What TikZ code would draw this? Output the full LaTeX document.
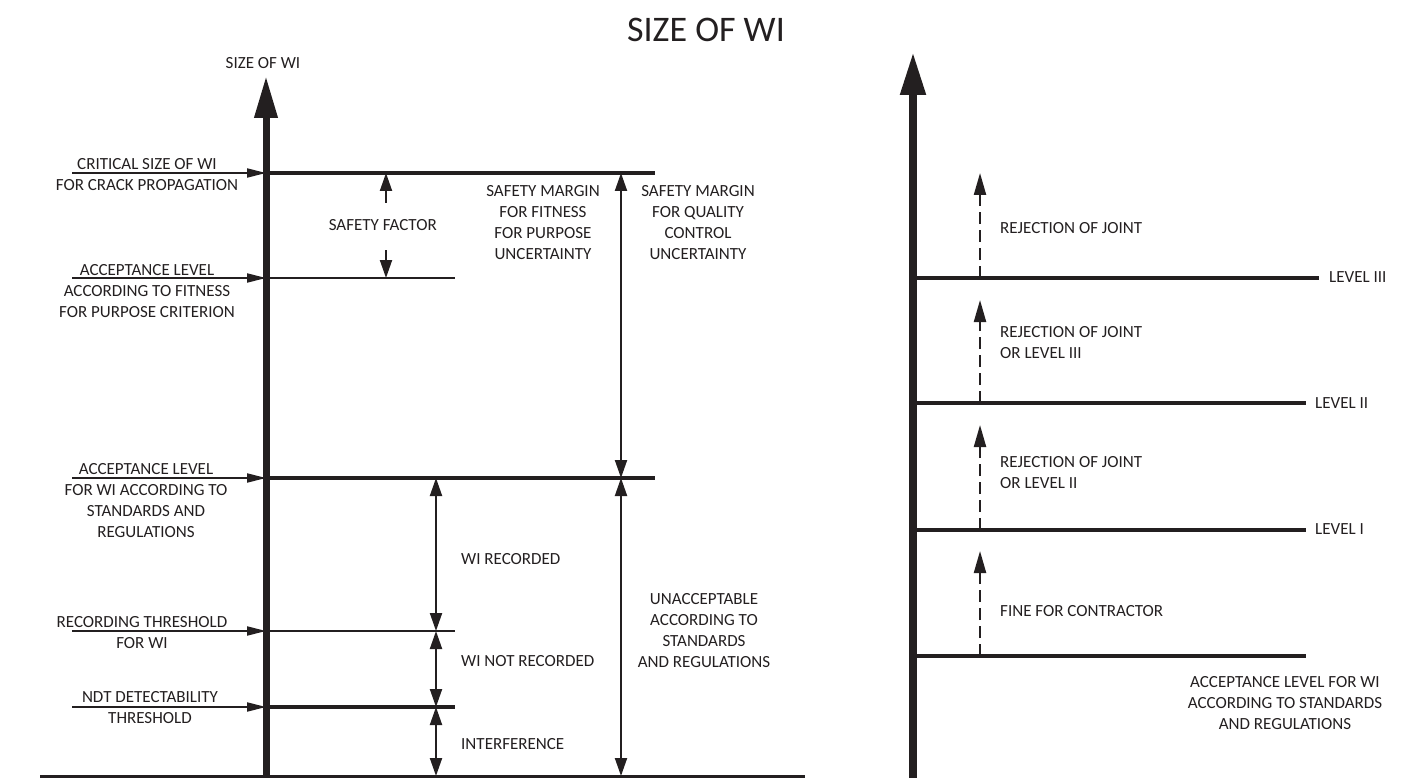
\documentclass[tikz,border=0pt]{standalone}
\usepackage{fontspec}
\setmainfont{Carlito}
\usetikzlibrary{arrows.meta}
\definecolor{ink}{RGB}{35,31,32}
\begin{document}
\begin{tikzpicture}[x=1pt,y=-1pt,
  lbl/.style={font=\fontsize{17}{21}\selectfont, text=ink, align=center, inner sep=0pt},
  lblL/.style={lbl, align=left},
  axisline/.style={draw=ink, line width=7pt, -{Triangle[length=42pt,width=22pt]}},
  axisR/.style={draw=ink, line width=8pt, -{Triangle[length=43pt,width=24pt]}},
  thicklev/.style={draw=ink, line width=4pt},
  thinlev/.style={draw=ink, line width=2pt},
  rlev/.style={draw=ink, line width=4pt},
  ptr/.style={draw=ink, line width=2pt, -{Triangle[length=19pt,width=9pt]}},
  dimhead/.style={draw=ink, line width=2pt, -{Triangle[length=18pt,width=12pt]}},
  dim/.style={draw=ink, line width=2pt, {Triangle[length=18pt,width=12pt]}-{Triangle[length=18pt,width=12pt]}},
  dashup/.style={draw=ink, line width=2.2pt, dash pattern=on 12pt off 6pt, -{Triangle[length=22pt,width=12pt]}}
]
\useasboundingbox (0,0) rectangle (1421,778);

% title
\node[lbl, font=\fontsize{36}{40}\selectfont, anchor=north] (title) at (706,18) {SIZE OF WI};

% ---------------- left diagram ----------------
\coordinate (LAbot) at (266,778);
\coordinate (LAtop) at (266,76);
\node[lbl, anchor=north] (axlabel) at (263,57) {SIZE OF WI};

% levels
\coordinate (L1) at (266,173); \coordinate (L1e) at (655,173);
\coordinate (L2) at (266,278); \coordinate (L2e) at (455,278);
\coordinate (L3) at (266,478); \coordinate (L3e) at (655,478);
\coordinate (L4) at (266,631); \coordinate (L4e) at (455,631);
\coordinate (L5) at (266,707); \coordinate (L5e) at (455,707);
\coordinate (B0) at (40,776); \coordinate (B1) at (805,776);

\draw[thicklev] (L1) -- (L1e);
\draw[thinlev] (L2) -- (L2e);
\draw[thicklev] (L3) -- (L3e);
\draw[thinlev] (L4) -- (L4e);
\draw[thicklev] (L5) -- (L5e);
\draw[draw=ink, line width=3pt] (B0) -- (B1);
\draw[axisline] (LAbot) -- (LAtop);

% pointer labels
\coordinate (P1) at (72,173);
\coordinate (P2) at (72,278);
\coordinate (P3) at (72,478);
\coordinate (P4) at (72,631);
\coordinate (P5) at (72,707);
\draw[ptr] (P1) -- (L1);
\draw[ptr] (P2) -- (L2);
\draw[ptr] (P3) -- (L3);
\draw[ptr] (P4) -- (L4);
\draw[ptr] (P5) -- (L5);

\node[lbl, anchor=north] (t1) at (147,158) {CRITICAL SIZE OF WI\\FOR CRACK PROPAGATION};
\node[lbl, anchor=north] (t2) at (147,264) {ACCEPTANCE LEVEL\\ACCORDING TO FITNESS\\FOR PURPOSE CRITERION};
\node[lbl, anchor=north] (t3) at (146,463) {ACCEPTANCE LEVEL\\FOR WI ACCORDING TO\\STANDARDS AND\\REGULATIONS};
\node[lbl, anchor=north] (t4) at (142,616) {RECORDING THRESHOLD\\FOR WI};
\node[lbl, anchor=north] (t5) at (150,691) {NDT DETECTABILITY\\THRESHOLD};

% safety factor
\coordinate (SFa) at (386,203); \coordinate (SFat) at (386,173);
\coordinate (SFb) at (386,250); \coordinate (SFbt) at (386,278);
\draw[dimhead] (SFa) -- (SFat);
\draw[dimhead] (SFb) -- (SFbt);
\node[lbl, anchor=north east] (sf) at (437,219) {SAFETY FACTOR};

\node[lbl, anchor=north] (smf) at (543,185) {SAFETY MARGIN\\FOR FITNESS\\FOR PURPOSE\\UNCERTAINTY};

% quality control margin
\coordinate (Q1) at (621,173); \coordinate (Q2) at (621,478);
\draw[dim] (Q2) -- (Q1);
\node[lbl, anchor=north] (smq) at (698,185) {SAFETY MARGIN\\FOR QUALITY\\CONTROL\\UNCERTAINTY};

% lower dimension arrows
\coordinate (D1) at (436,478); \coordinate (D2) at (436,631);
\coordinate (D3) at (436,707); \coordinate (D4) at (436,776);
\draw[dim] (D1) -- (D2);
\draw[dim] (D2) -- (D3);
\draw[dim] (D3) -- (D4);
\node[lblL, anchor=north west] (wr) at (461,553) {WI RECORDED};
\node[lblL, anchor=north west] (wnr) at (461,655) {WI NOT RECORDED};
\node[lblL, anchor=north west] (intf) at (461,738) {INTERFERENCE};

\coordinate (U1) at (621,478); \coordinate (U2) at (621,776);
\draw[dim] (U1) -- (U2);
\node[lbl, anchor=north] (unacc) at (704,593) {UNACCEPTABLE\\ACCORDING TO\\STANDARDS\\AND REGULATIONS};

% ---------------- right diagram ----------------
\coordinate (RAbot) at (913,778);
\coordinate (RAtop) at (913,52);

\coordinate (R3) at (913,278); \coordinate (R3e) at (1319,278);
\coordinate (R2) at (913,403); \coordinate (R2e) at (1306,403);
\coordinate (R1) at (913,530); \coordinate (R1e) at (1306,530);
\coordinate (R0) at (913,656); \coordinate (R0e) at (1306,656);
\draw[rlev] (R3) -- (R3e);
\draw[rlev] (R2) -- (R2e);
\draw[rlev] (R1) -- (R1e);
\draw[rlev] (R0) -- (R0e);
\draw[axisR] (RAbot) -- (RAtop);

\node[lblL, anchor=north west] (lv3) at (1329,271) {LEVEL III};
\node[lblL, anchor=north west] (lv2) at (1315,397) {LEVEL II};
\node[lblL, anchor=north west] (lv1) at (1315,523) {LEVEL I};
\node[lbl, anchor=north] (accR) at (1285,676) {ACCEPTANCE LEVEL FOR WI\\ACCORDING TO STANDARDS\\AND REGULATIONS};

\coordinate (A3) at (980,278); \coordinate (A3t) at (980,173);
\coordinate (A2) at (980,403); \coordinate (A2t) at (980,300);
\coordinate (A1) at (980,530); \coordinate (A1t) at (980,425);
\coordinate (A0) at (980,656); \coordinate (A0t) at (980,551);
\draw[dashup] (A3) -- (A3t);
\draw[dashup] (A2) -- (A2t);
\draw[dashup] (A1) -- (A1t);
\draw[dashup] (A0) -- (A0t);

\node[lblL, anchor=north west] (rj3) at (1000,222) {REJECTION OF JOINT};
\node[lblL, anchor=north west] (rj2) at (1000,326) {REJECTION OF JOINT\\OR LEVEL III};
\node[lblL, anchor=north west] (rj1) at (1000,456) {REJECTION OF JOINT\\OR LEVEL II};
\node[lblL, anchor=north west] (fine) at (1000,605) {FINE FOR CONTRACTOR};
\end{tikzpicture}
\end{document}
